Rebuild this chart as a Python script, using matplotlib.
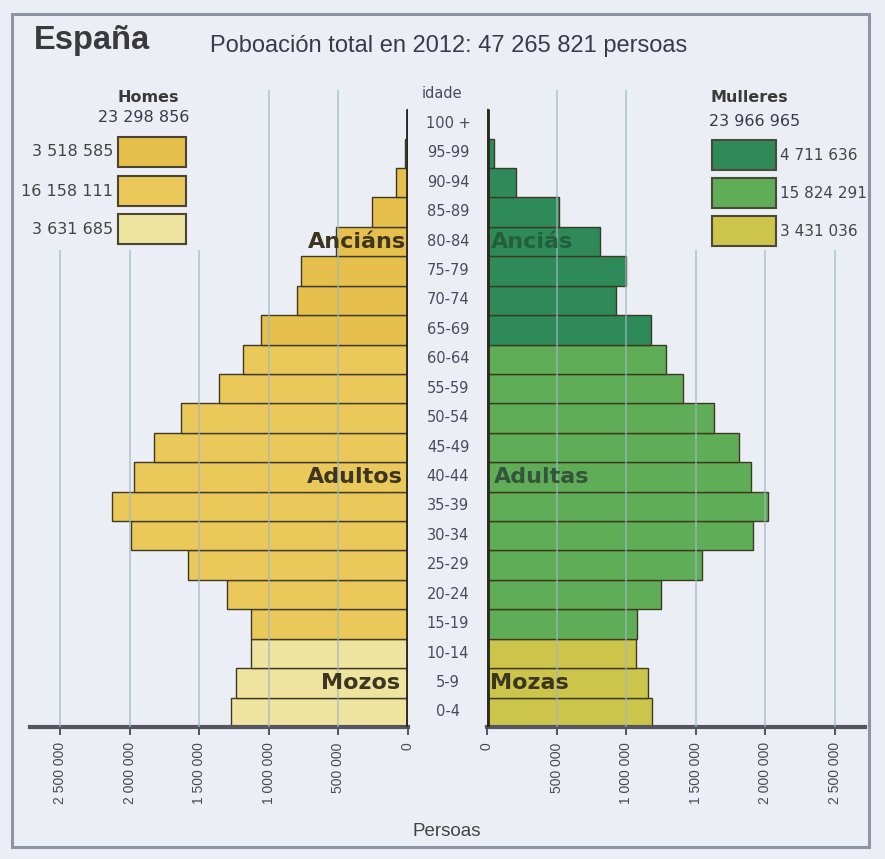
import matplotlib
matplotlib.use("Agg")
import matplotlib.pyplot as plt
from matplotlib.patches import Rectangle
import numpy as np

# ---------------- data ----------------
ages = ["0-4", "5-9", "10-14", "15-19", "20-24", "25-29", "30-34", "35-39",
        "40-44", "45-49", "50-54", "55-59", "60-64", "65-69", "70-74",
        "75-79", "80-84", "85-89", "90-94", "95-99", "100 +"]
homes = [1270000, 1240000, 1130000, 1130000, 1300000, 1580000, 1990000, 2130000,
         1970000, 1830000, 1630000, 1360000, 1190000, 1060000, 800000,
         770000, 520000, 260000, 85000, 20000, 5000]
mulleres = [1190000, 1160000, 1070000, 1080000, 1250000, 1550000, 1910000, 2020000,
            1900000, 1810000, 1630000, 1410000, 1290000, 1180000, 930000,
            1000000, 810000, 520000, 210000, 50000, 10000]
grupo = ["mozos"] * 3 + ["adultos"] * 10 + ["ancians"] * 8
ticks = [0, 500000, 1000000, 1500000, 2000000, 2500000]
tick_labels = ["0", "500 000", "1 000 000", "1 500 000", "2 000 000", "2 500 000"]
homes_leg = ["3 518 585", "16 158 111", "3 631 685"]
mulleres_leg = ["4 711 636", "15 824 291", "3 431 036"]
title = "España"
subtitle = "Poboación total en 2012: 47 265 821 persoas"

col_h = {"ancians": "#e7bf4c", "adultos": "#ebc85a", "mozos": "#efe3a0"}
col_m = {"ancians": "#2e8a58", "adultos": "#5fad57", "mozos": "#cdc44c"}

W, H = 885, 859
fig = plt.figure(figsize=(W / 100, H / 100), dpi=100)
fig.patch.set_facecolor("#eceef6")

def px_axes(x0, y0, x1, y1, **kw):
    return fig.add_axes([x0 / W, 1 - y1 / H, (x1 - x0) / W, (y1 - y0) / H], **kw)

bg = px_axes(0, 0, W, H)
bg.set_xlim(0, W)
bg.set_ylim(H, 0)
bg.axis("off")
bg.set_zorder(0)
bg.add_patch(Rectangle((12, 14), 857, 833, fill=False, ec="#8f95a3", lw=2.2))

LIB = ["Liberation Sans", "DejaVu Sans"]
DJ = ["DejaVu Sans"]

XMAX = 2719000
YTOP = 21.15
axL = px_axes(30, 90, 408, 727)
axR = px_axes(487, 90, 865, 727)
y = np.arange(len(ages))
for ax, vals, cols in ((axL, homes, col_h), (axR, mulleres, col_m)):
    ax.set_zorder(2)
    ax.patch.set_alpha(0)
    ax.set_ylim(-0.5, YTOP)
    ax.barh(y, vals, height=1.0, color=[cols[g] for g in grupo],
            edgecolor="#3d3a22", linewidth=1.0, zorder=2)
    for t in ticks[1:]:
        top = YTOP if t <= 1000000 else 15.7
        ax.vlines(t, -0.5, top, color="#9fb8c2", lw=1.1, zorder=3, alpha=0.8)
    ax.set_xticks(ticks)
    ax.set_xticklabels(tick_labels, rotation=90, fontsize=10, color="#4a4a4a",
                       family=LIB)
    ax.tick_params(axis="x", length=6, width=1.2, color="#3a3a3a", pad=5)
    ax.set_yticks([])
    for s in ("top", "left", "right"):
        ax.spines[s].set_visible(False)
    ax.spines["bottom"].set_linewidth(3)
    ax.spines["bottom"].set_color("#555560")

axL.set_xlim(XMAX, 0)
axR.set_xlim(0, XMAX)
axL.vlines(0, -0.5, 20.5, color="#2d2b20", lw=3.5, zorder=4)
axR.vlines(0, -0.5, 20.5, color="#2d2b20", lw=3.5, zorder=4)

lab_kw = dict(fontsize=16, fontweight="bold", va="center", family=DJ, zorder=5)
axL.text(15000, 16, "Anciáns", ha="right", color="#3b3620", **lab_kw)
axR.text(30000, 16, "Anciás", ha="left", color="#245e3c", **lab_kw)
axL.text(40000, 8, "Adultos", ha="right", color="#3b3620", **lab_kw)
axR.text(50000, 8, "Adultas", ha="left", color="#34553a", **lab_kw)
axL.text(60000, 1, "Mozos", ha="right", color="#3b3620", **lab_kw)
axR.text(20000, 1, "Mozas", ha="left", color="#3b3620", **lab_kw)

for i, a in enumerate(ages):
    ypx = 712 - i * 29.43
    bg.text(448, ypx, a, ha="center", va="center", fontsize=10.5,
            color="#4a4a5c", family=DJ)
bg.text(442, 93, "idade", ha="center", va="center", fontsize=10.5,
        color="#4a4a5c", family=DJ)

bg.text(34, 40, title, ha="left", va="center", fontsize=23.5, fontweight="bold",
        color="#3a3a3a", family=LIB)
bg.text(210, 46, subtitle, ha="left", va="center", fontsize=17,
        color="#3a3a48", family=LIB)
bg.text(447, 832, "Persoas", ha="center", va="center", fontsize=13.5,
        color="#444444", family=LIB)

bg.text(148, 97, "Homes", ha="center", va="center", fontsize=11.5,
        fontweight="bold", color="#3a3a3a", family=DJ)
bg.text(144, 118, "23 298 856", ha="center", va="center", fontsize=11.5,
        color="#3a3a48", family=DJ)
bg.text(711, 97, "Mulleres", ha="left", va="center", fontsize=11.5,
        fontweight="bold", color="#3a3a3a", family=DJ)
bg.text(709, 121, "23 966 965", ha="left", va="center", fontsize=11.5,
        color="#3a3a48", family=DJ)
keys = ["ancians", "adultos", "mozos"]
for k, (lab, yy) in enumerate(zip(homes_leg, [137, 176, 214])):
    bg.add_patch(Rectangle((118, yy), 68, 30, fc=col_h[keys[k]], ec="#4a4530", lw=1.5))
    bg.text(113, yy + 15, lab, ha="right", va="center", fontsize=11.5,
            color="#444444", family=DJ)
for k, (lab, yy) in enumerate(zip(mulleres_leg, [140, 178, 216])):
    bg.add_patch(Rectangle((712, yy), 64, 30, fc=col_m[keys[k]], ec="#4a4a38", lw=1.5))
    bg.text(780, yy + 15, lab, ha="left", va="center", fontsize=11,
            color="#444444", family=DJ)

fig.savefig("out.png", dpi=100, facecolor=fig.get_facecolor())
